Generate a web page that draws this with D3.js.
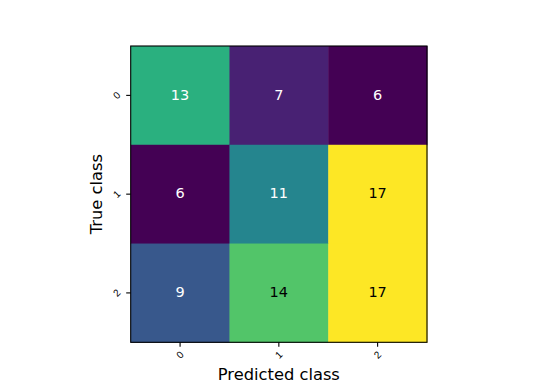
<!DOCTYPE html>
<html>
<head>
<meta charset="utf-8">
<script src="https://cdn.jsdelivr.net/npm/d3@7"></script>
<style>
  html, body { margin: 0; padding: 0; background: #fff; }
  svg { display: block; font-family: "DejaVu Sans", sans-serif; }
</style>
</head>
<body>
<svg id="chart" width="544" height="384"></svg>
<script>
// ---- data ----
const predictedClasses = ["0", "1", "2"];
const trueClasses = ["0", "1", "2"];
const row0 = [13, 7, 6];
const row1 = [6, 11, 17];
const row2 = [9, 14, 17];
const counts = [row0, row1, row2];
const darkTextAbove = 13.5;   // cells above this get dark text
const xTitle = "Predicted class";
const yTitle = "True class";

// ---- layout ----
const svg = d3.select("#chart");
const plotLeft = 130.7, plotTop = 46, plotSize = 296.3;

const x = d3.scaleBand().domain(predictedClasses).range([plotLeft, plotLeft + plotSize]);
const y = d3.scaleBand().domain(trueClasses).range([plotTop, plotTop + plotSize]);

const flat = [];
counts.forEach((r, i) => r.forEach((v, j) => flat.push({t: trueClasses[i], p: predictedClasses[j], v})));
const all = flat.map(d => d.v);
const color = d3.scaleSequential(d3.interpolateViridis).domain([d3.min(all), d3.max(all)]);

// cells
svg.append("g").selectAll("rect").data(flat).join("rect")
  .attr("x", d => x(d.p)).attr("y", d => y(d.t))
  .attr("width", x.bandwidth() + 0.5).attr("height", y.bandwidth() + 0.5)
  .attr("fill", d => color(d.v));

// cell text
svg.append("g").selectAll("text").data(flat).join("text")
  .attr("x", d => x(d.p) + x.bandwidth() / 2)
  .attr("y", d => y(d.t) + y.bandwidth() / 2 - 0.8)
  .attr("text-anchor", "middle").attr("dominant-baseline", "central")
  .attr("font-size", 14.5)
  .attr("fill", d => d.v > darkTextAbove ? "#000" : "#fff")
  .text(d => d.v);

// frame
svg.append("rect").attr("x", plotLeft).attr("y", plotTop).attr("width", plotSize).attr("height", plotSize)
  .attr("fill", "none").attr("stroke", "#000").attr("stroke-width", 1.1);

// x axis
const xAxis = svg.append("g").attr("transform", `translate(0,${plotTop + plotSize})`)
  .call(d3.axisBottom(x).tickSize(4.5).tickPadding(0));
xAxis.select(".domain").remove();
xAxis.selectAll(".tick line").attr("stroke", "#000").attr("stroke-width", 1.1);
xAxis.selectAll(".tick text").remove();
xAxis.selectAll(".tick").append("text")
  .attr("transform", "translate(0,12.5) rotate(-45)")
  .attr("text-anchor", "middle").attr("dominant-baseline", "central")
  .attr("font-size", 10).attr("fill", "#000")
  .text(d => d);

// y axis
const yAxis = svg.append("g").attr("transform", `translate(${plotLeft},0)`)
  .call(d3.axisLeft(y).tickSize(4.5).tickPadding(0));
yAxis.select(".domain").remove();
yAxis.selectAll(".tick line").attr("stroke", "#000").attr("stroke-width", 1.1);
yAxis.selectAll(".tick text").remove();
yAxis.selectAll(".tick").append("text")
  .attr("transform", "translate(-14,0) rotate(-45)")
  .attr("text-anchor", "middle").attr("dominant-baseline", "central")
  .attr("font-size", 10).attr("fill", "#000")
  .text(d => d);

// titles
svg.append("text").attr("x", plotLeft + plotSize / 2).attr("y", 380)
  .attr("text-anchor", "middle").attr("font-size", 16.3).attr("fill", "#000")
  .text(xTitle);
svg.append("text")
  .attr("transform", `translate(102,${plotTop + plotSize / 2}) rotate(-90)`)
  .attr("text-anchor", "middle").attr("font-size", 16.3).attr("fill", "#000")
  .text(yTitle);
</script>
</body>
</html>
